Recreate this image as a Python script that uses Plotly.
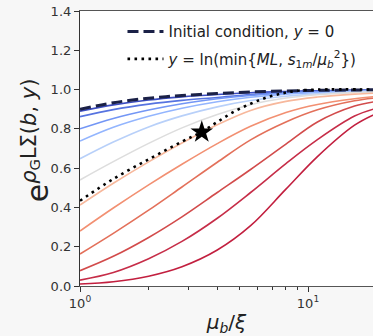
import plotly.graph_objects as go

# x grid (mu_b / xi) at which values were read
mu = [1, 1.4, 2, 2.8, 4, 5.6, 8, 11, 16, 20]

# solid curves, top (blue) to bottom (red)
c01 = [0.890, 0.922, 0.947, 0.963, 0.975, 0.984, 0.990, 0.994, 0.997, 0.998]
c02 = [0.862, 0.898, 0.926, 0.945, 0.960, 0.975, 0.986, 0.991, 0.995, 0.997]
c03 = [0.800, 0.853, 0.896, 0.928, 0.953, 0.970, 0.982, 0.988, 0.993, 0.995]
c04 = [0.738, 0.808, 0.864, 0.905, 0.938, 0.961, 0.977, 0.985, 0.991, 0.994]
c05 = [0.648, 0.733, 0.810, 0.866, 0.912, 0.944, 0.966, 0.978, 0.987, 0.990]
c06 = [0.540, 0.633, 0.726, 0.805, 0.873, 0.923, 0.957, 0.974, 0.985, 0.989]
c07 = [0.412, 0.523, 0.632, 0.728, 0.821, 0.894, 0.940, 0.962, 0.977, 0.982]
c08 = [0.280, 0.397, 0.515, 0.620, 0.725, 0.813, 0.883, 0.924, 0.953, 0.965]
c09 = [0.163, 0.268, 0.386, 0.504, 0.630, 0.744, 0.835, 0.897, 0.943, 0.958]
c10 = [0.078, 0.151, 0.247, 0.352, 0.476, 0.593, 0.722, 0.835, 0.916, 0.940]
c11 = [0.030, 0.069, 0.139, 0.227, 0.345, 0.476, 0.623, 0.745, 0.865, 0.905]
c12 = [0.010, 0.022, 0.050, 0.098, 0.183, 0.307, 0.493, 0.659, 0.819, 0.879]
curves = [c01, c02, c03, c04, c05, c06, c07, c08, c09, c10, c11, c12]
colors = ["#3b4cc0", "#5673e0", "#7396f5", "#93b5fe", "#b8d0f9", "#dddddd",
          "#f7b89c", "#f29072", "#e3705a", "#d24b4b", "#c62d48", "#c21f3f"]

# initial condition (dashed)
init_y = [0.900, 0.933, 0.956, 0.970, 0.980, 0.988, 0.993, 0.996, 0.998, 0.999]

# y = ln(min{ML, s/mu^2}) path (dotted)
dot_mu = [1, 1.4, 2, 2.8, 3.42, 4, 4.7, 5.6, 6.6, 7.8, 9, 11, 20]
dot_y = [0.434, 0.545, 0.645, 0.735, 0.785, 0.835, 0.885, 0.928, 0.960, 0.982, 0.994, 1.0, 1.0]

star_mu = [3.42]
star_y = [0.783]

fig = go.Figure()
for ys, col in zip(curves, colors):
    fig.add_trace(go.Scatter(x=mu, y=ys, mode="lines", line=dict(color=col, width=1.6, shape="spline"),
                             showlegend=False, hoverinfo="skip"))

fig.add_trace(go.Scatter(x=mu, y=init_y, mode="lines",
                         line=dict(color="#1b2147", width=3, dash="11px,5px", shape="spline"),
                         name="Initial condition, <i>y</i> = 0", legendrank=1, legendgroup="a"))
fig.add_trace(go.Scatter(x=dot_mu, y=dot_y, mode="lines",
                         line=dict(color="black", width=2.6, dash="2.6px,4.4px", shape="spline"),
                         name="<i>y</i> = ln(min{<i>ML</i>, <i>s</i><sub>1<i>m</i></sub>/<i>μ</i><sub><i>b</i></sub><sup>2</sup>})",
                         legendrank=2, legendgroup="b"))
fig.add_trace(go.Scatter(x=star_mu, y=star_y, mode="markers",
                         marker=dict(symbol="star", size=17, color="black"), showlegend=False))

fig.update_layout(
    width=373, height=336,
    margin=dict(l=80, r=0, t=11, b=50),
    paper_bgcolor="#f7f7f7", plot_bgcolor="white",
    font=dict(family="DejaVu Sans", color="#333333", size=13),
    legend=dict(x=0.145, y=0.985, xanchor="left", yanchor="top", bgcolor="rgba(0,0,0,0)",
                font=dict(size=15, color="#222222"), tracegroupgap=5, traceorder="grouped",
                itemwidth=36),
    xaxis=dict(type="log", range=[0, 1.285], showgrid=False, zeroline=False,
               showline=True, linecolor="#555555", linewidth=1.2, mirror=True,
               ticks="outside", ticklen=5, tickcolor="#333333",
               tickvals=[1, 10], ticktext=["10<sup>0</sup>", "10<sup>1</sup>"],
               tickfont=dict(size=13),
               minor=dict(ticks="outside", ticklen=3, tickcolor="#333333",
                          tickvals=[2, 3, 4, 5, 6, 7, 8, 9, 20]),
               title=dict(text="<i>μ</i><sub><i>b</i></sub>/<i>ξ</i>", font=dict(size=20, color="#222222"),
                          standoff=8)),
    yaxis=dict(range=[0, 1.4], dtick=0.2, tickformat=".1f", showgrid=False, zeroline=False,
               showline=True, linecolor="#333333", linewidth=1.2,
               ticks="outside", ticklen=5, tickcolor="#333333", tickfont=dict(size=13)),
)

fig.add_annotation(
    text="e<sup><i>ρ</i><sub>G</sub>LΣ(<i>b</i>, <i>y</i>)</sup>",
    xref="paper", yref="paper", x=-0.15, y=0.53, xanchor="center", yanchor="middle",
    textangle=-90, showarrow=False, font=dict(size=30, color="#222222"))

fig.write_html("out.html", config={"displayModeBar": False},
               post_script="document.body.style.margin='0px';")
